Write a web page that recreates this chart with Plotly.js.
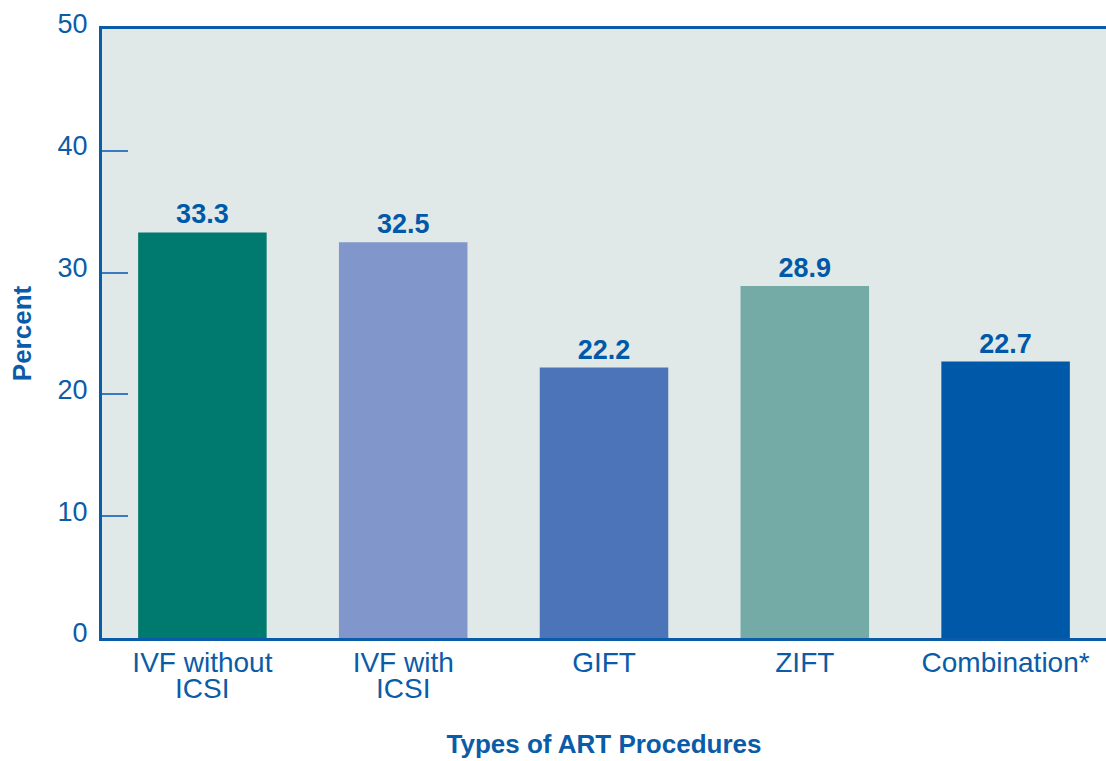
<!DOCTYPE html>
<html>
<head>
<meta charset="utf-8">
<script src="https://cdn.plot.ly/plotly-3.0.1.min.js"></script>
<style>html,body{margin:0;padding:0;background:#fff;}#chart{width:1106px;height:761px;}</style>
</head>
<body>
<div id="chart"></div>
<script>
const categories = ["IVF without ICSI", "IVF with ICSI", "GIFT", "ZIFT", "Combination*"];
const labelLine1 = ["IVF without", "IVF with", "GIFT", "ZIFT", "Combination*"];
const labelLine2 = ["ICSI", "ICSI", "", "", ""];
const values = [33.3, 32.5, 22.2, 28.9, 22.7];
const valueLabels = ["33.3", "32.5", "22.2", "28.9", "22.7"];
const barColors = ["#007a6e", "#8197cb", "#4c74b8", "#74aba7", "#0059a8"];
const yTicks = [0, 10, 20, 30, 40, 50];

const blue = "#0a5ca8";
const font = "Liberation Sans, Arial, Helvetica, sans-serif";

const trace = {
  type: "bar",
  x: categories,
  y: values,
  text: valueLabels,
  textposition: "outside",
  cliponaxis: false,
  textfont: {family: font, size: 27, color: "#0059a8", weight: "bold"},
  marker: {color: barColors, line: {width: 0}},
  width: 0.64,
  hoverinfo: "none"
};

const annotations = categories.map((c, i) => ({
  xref: "x", yref: "paper", x: c, y: 0,
  yanchor: "top", xanchor: "center", yshift: -33,
  text: labelLine2[i], showarrow: false,
  font: {family: font, size: 28, color: blue}
})).filter(a => a.text !== "");

const layout = {
  width: 1106, height: 761,
  margin: {l: 102, r: 0, t: 29, b: 123, pad: 0},
  paper_bgcolor: "#ffffff",
  plot_bgcolor: "#e0e9e8",
  showlegend: false,
  font: {family: font, color: blue, size: 22},
  xaxis: {
    tickvals: categories, ticktext: labelLine1,
    showline: true, linecolor: blue, linewidth: 3, mirror: true,
    ticks: "", showgrid: false, zeroline: false,
    tickfont: {family: font, size: 28, color: blue},
    ticklabelstandoff: -3,
    title: {text: "<b>Types of ART Procedures</b>", font: {family: font, size: 26, color: blue}, standoff: 59}
  },
  yaxis: {
    range: [0, 50], tickvals: yTicks,
    showline: true, linecolor: blue, linewidth: 3,
    ticks: "inside", ticklen: 26, tickwidth: 2, tickcolor: "#3b7bbd",
    showgrid: false, zeroline: false,
    tickfont: {family: font, size: 27, color: blue},
    ticklabelstandoff: 6,
    ticklabelshift: -5,
    title: {text: "<b>Percent</b>", font: {family: font, size: 26, color: blue}, standoff: 19}
  },
  annotations: annotations,
  bargap: 0.36
};

Plotly.newPlot("chart", [trace], layout, {displayModeBar: false, staticPlot: true});
</script>
</body>
</html>
